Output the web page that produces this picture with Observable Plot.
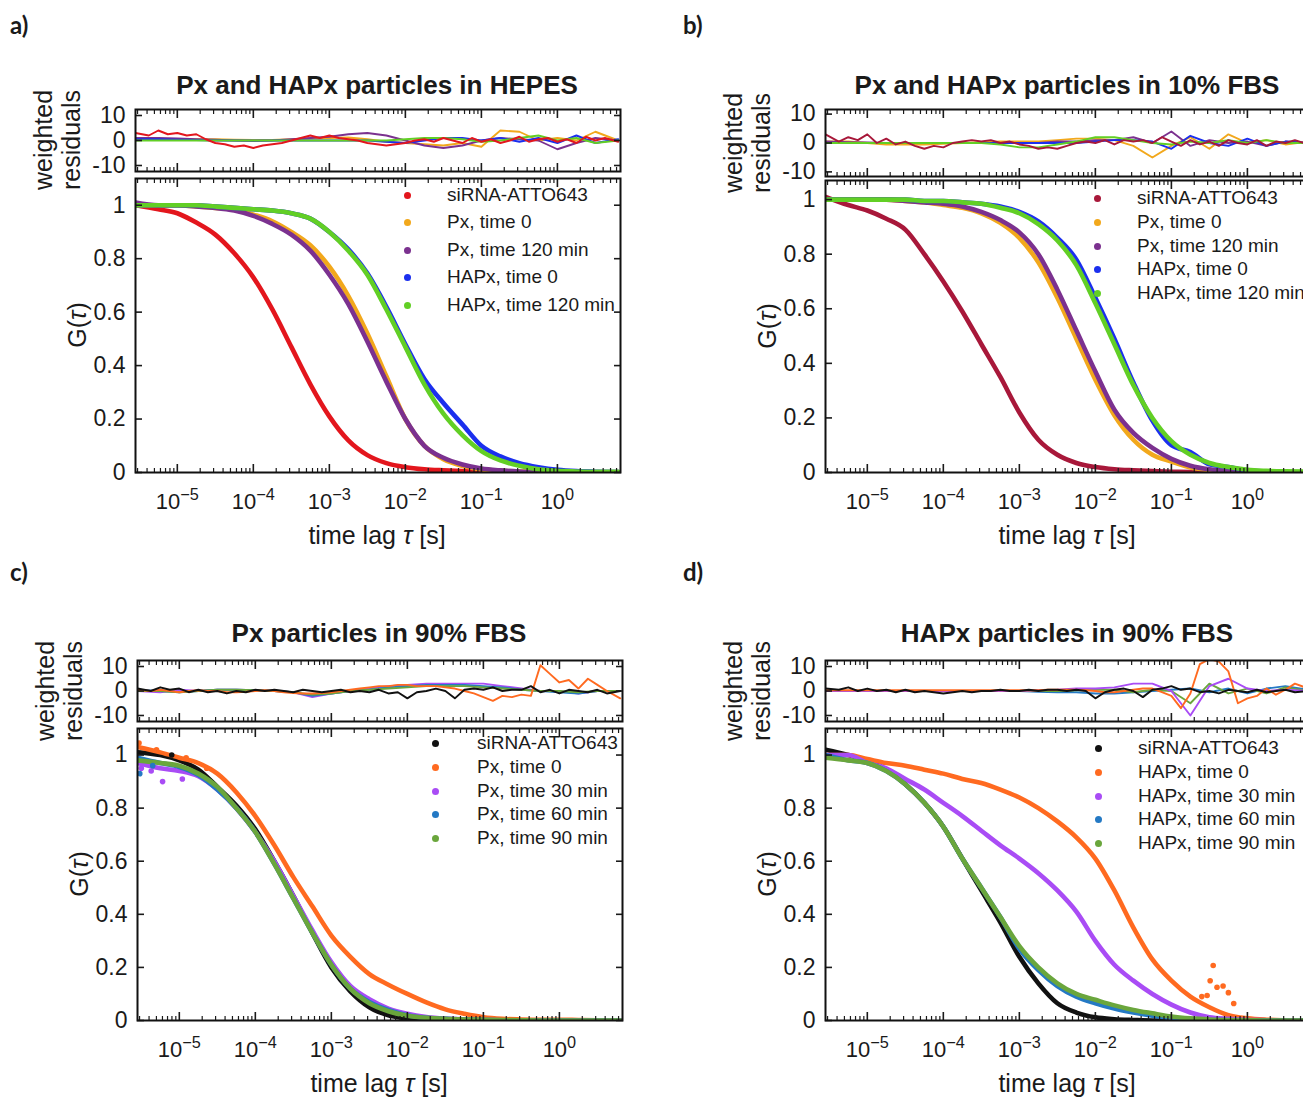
<!DOCTYPE html>
<html><head><meta charset="utf-8">
<script src="https://cdn.jsdelivr.net/npm/d3@7"></script>
<script src="https://cdn.jsdelivr.net/npm/@observablehq/plot@0.6"></script>
<style>
body{margin:0;background:#fff;}
#fig{position:relative;width:1303px;height:1097px;overflow:hidden;background:#fff;font-family:"Liberation Sans",Arial,sans-serif;color:#1a1a1a;}
.abs{position:absolute;}
.plabel{font-family:Lato,"Open Sans",sans-serif;font-weight:700;font-size:24px;line-height:28px;}
.title{font-weight:700;font-size:26px;line-height:30px;text-align:center;white-space:nowrap;}
.leg{font-size:19px;line-height:22px;white-space:nowrap;}
.dot{width:7px;height:7px;border-radius:50%;}
.ylab{font-size:25px;line-height:28px;text-align:center;white-space:nowrap;transform:translate(-50%,-50%) rotate(-90deg);}
.xlab{font-size:25px;line-height:30px;text-align:center;white-space:nowrap;transform:translate(-50%,-50%);}
</style></head><body><div id="fig"></div><script>
// ---------- DATA ----------
// lag-time grid (log10 of tau in s) used for the correlation curves
const logTau = [-5.55,-5.25,-5,-4.75,-4.5,-4.25,-4,-3.75,-3.5,-3.25,-3,-2.75,-2.5,-2.25,-2,-1.75,-1.5,-1.25,-1,-0.75,-0.5,-0.25,0,0.25,0.5,0.8];
// finer grid used for the noisiest residual traces
const logTauFine = [-5.55,-5.375,-5.25,-5.125,-5,-4.875,-4.75,-4.625,-4.5,-4.375,-4.25,-4.125,-4,-3.875,-3.75,-3.625,-3.5,-3.375,-3.25,-3.125,-3,-2.875,-2.75,-2.625,-2.5,-2.375,-2.25,-2.125,-2,-1.875,-1.75,-1.625,-1.5,-1.375,-1.25,-1.125,-1,-0.875,-0.75,-0.625,-0.5,-0.375,-0.25,-0.125,0,0.125,0.25,0.375,0.5,0.625,0.8];

const namesAB = ["siRNA-ATTO643","Px, time 0","Px, time 120 min","HAPx, time 0","HAPx, time 120 min"];
const namesC = ["siRNA-ATTO643","Px, time 0","Px, time 30 min","Px, time 60 min","Px, time 90 min"];
const namesD = ["siRNA-ATTO643","HAPx, time 0","HAPx, time 30 min","HAPx, time 60 min","HAPx, time 90 min"];
const colorsA = ["#e3161d","#f2a81c","#7b318f","#1b2fee","#62cf25"];
const colorsB = ["#a8183a","#f2a81c","#7b318f","#1b2fee","#62cf25"];
const colorsCD = ["#111111","#ff6a20","#a94cf5","#2479c4","#6aa63c"];
const titles = ["Px and HAPx particles in HEPES","Px and HAPx particles in 10% FBS","Px particles in 90% FBS","HAPx particles in 90% FBS"];
const panelLetters = ["a)","b)","c)","d)"];
const gTicks = [0,0.2,0.4,0.6,0.8,1];
const resTicks = [-10,0,10];

// Panel a, G(tau)
const gA_siRNA  = [1.0,0.985,0.97,0.935,0.89,0.82,0.73,0.61,0.47,0.33,0.21,0.12,0.065,0.035,0.02,0.012,0.008,0.005,0.003,0.002,0.001,0.001,0,0,0,0];
const gA_px0    = [1.0,1.0,1.0,0.995,0.99,0.985,0.965,0.94,0.9,0.85,0.77,0.66,0.52,0.36,0.2,0.1,0.05,0.025,0.012,0.006,0.004,0.002,0.001,0,0,0];
const gA_px120  = [1.01,1.0,1.0,0.995,0.99,0.98,0.96,0.93,0.89,0.83,0.74,0.63,0.49,0.34,0.2,0.1,0.055,0.03,0.015,0.008,0.004,0.002,0.001,0,0,0];
const gA_hapx0  = [1.0,1.0,1.0,1.0,0.995,0.99,0.985,0.98,0.97,0.95,0.9,0.835,0.745,0.62,0.48,0.35,0.26,0.18,0.1,0.06,0.035,0.02,0.01,0.005,0.003,0.002];
const gA_hapx120= [1.0,1.0,1.0,1.0,0.995,0.99,0.985,0.98,0.97,0.95,0.9,0.83,0.74,0.61,0.47,0.33,0.22,0.14,0.08,0.045,0.025,0.012,0.006,0.004,0.003,0.003];
// Panel b
const gB_siRNA  = [1.01,0.98,0.96,0.93,0.89,0.8,0.7,0.59,0.47,0.35,0.22,0.12,0.065,0.035,0.02,0.012,0.008,0.005,0.003,0.002,0.001,0.001,0,0,0,0];
const gB_px0    = [1.0,1.0,1.0,1.0,0.995,0.99,0.98,0.97,0.95,0.915,0.86,0.77,0.64,0.49,0.34,0.21,0.12,0.065,0.04,0.018,0.01,0.005,0.003,0.002,0.001,0];
const gB_px120  = [1.0,1.0,1.0,1.0,0.995,0.99,0.985,0.975,0.955,0.925,0.88,0.8,0.67,0.52,0.37,0.23,0.145,0.09,0.05,0.025,0.012,0.006,0.003,0.002,0.001,0];
const gB_hapx0  = [1.0,1.0,1.0,1.0,1.0,0.995,0.995,0.99,0.985,0.975,0.955,0.92,0.86,0.78,0.64,0.49,0.33,0.19,0.1,0.075,0.03,0.02,0.008,0.004,0.001,0];
const gB_hapx120= [1.0,1.0,1.0,1.0,1.0,0.995,0.995,0.99,0.985,0.97,0.95,0.91,0.85,0.76,0.62,0.47,0.32,0.2,0.115,0.065,0.035,0.02,0.01,0.006,0.004,0.003];
// Panel c
const gC_siRNA = [1.01,1.0,0.98,0.945,0.88,0.81,0.72,0.6,0.47,0.33,0.2,0.11,0.05,0.02,0.008,0.003,0.001,0,0,0,0,0,0,0,0,0];
const gC_px0   = [1.03,1.01,0.99,0.97,0.93,0.86,0.77,0.66,0.54,0.43,0.32,0.24,0.175,0.135,0.1,0.068,0.042,0.025,0.012,0.006,0.004,0.003,0.003,0.002,0.001,0];
const gC_px30  = [0.97,0.95,0.94,0.92,0.87,0.8,0.71,0.6,0.47,0.34,0.22,0.13,0.08,0.045,0.025,0.013,0.007,0.004,0.002,0.001,0,0,0,0,0,0];
const gC_px60  = [0.99,0.97,0.955,0.925,0.87,0.8,0.71,0.59,0.46,0.33,0.21,0.12,0.07,0.04,0.02,0.01,0.006,0.004,0.002,0.001,0,0,0,0,0,0];
const gC_px90  = [0.98,0.97,0.96,0.93,0.88,0.8,0.71,0.59,0.46,0.33,0.21,0.12,0.065,0.035,0.018,0.01,0.006,0.004,0.003,0.002,0.001,0,0,0,0,0];
// scattered early points, panel c
const xC_px0_log = [-5.53,-5.3,-4.91,-4.64];  const xC_px0_g = [1.045,1.02,0.99,0.95];
const xC_px30_log = [-5.5,-5.37,-5.22,-4.96]; const xC_px30_g = [0.95,0.94,0.9,0.91];
const xC_px60_log = [-5.52,-5.35];            const xC_px60_g = [0.93,0.96];
const xC_siRNA_log = [-5.1];                  const xC_siRNA_g = [1.0];
// Panel d
const gD_siRNA  = [1.02,1.0,0.98,0.945,0.89,0.82,0.73,0.61,0.49,0.37,0.24,0.14,0.065,0.03,0.012,0.005,0.002,0,0,0,0,0,0,0,0,0];
const gD_hapx0  = [1.0,1.0,0.985,0.97,0.96,0.945,0.93,0.91,0.895,0.87,0.84,0.8,0.75,0.69,0.61,0.49,0.35,0.23,0.15,0.09,0.05,0.02,0.008,0.003,0.001,0];
const gD_hapx30 = [1.0,1.0,0.97,0.95,0.91,0.87,0.82,0.77,0.715,0.66,0.61,0.555,0.49,0.41,0.3,0.21,0.15,0.1,0.06,0.03,0.012,0.006,0.002,0.001,0,0];
const gD_hapx60 = [1.0,0.98,0.97,0.94,0.89,0.82,0.73,0.61,0.5,0.39,0.27,0.19,0.13,0.09,0.065,0.045,0.03,0.018,0.01,0.005,0.002,0.001,0,0,0,0];
const gD_hapx90 = [0.99,0.98,0.97,0.94,0.89,0.82,0.73,0.61,0.5,0.39,0.28,0.2,0.14,0.1,0.078,0.057,0.04,0.027,0.015,0.008,0.004,0.002,0.001,0,0,0];
// scattered late points, panel d (HAPx, time 0)
const xD_hapx0_log = [-0.6,-0.53,-0.49,-0.45,-0.4,-0.32,-0.25,-0.18];
const xD_hapx0_g   = [0.09,0.094,0.15,0.207,0.125,0.13,0.105,0.064];

// Weighted residuals
const rA_siRNA  = [3,2,4,2.5,3,2,2.5,0.5,-1,-1.5,-2.5,-2,-3,-2,-1.5,-1,0,1,2,1,2,1,0.5,0,-1,-1.5,-2,-1.5,-1,0,0.5,-0.5,1,0,-1,1,-0.5,0.5,-1,0,1.5,-0.5,0.5,1,-0.5,0.5,-1,1.5,0,1,-0.5];
const rA_px0    = [0.5,0.5,0.5,0.5,0.5,0.3,0.2,0.2,0.5,0.8,1,1.2,0.5,-0.5,-1,-1.5,-2,-1,-2.5,4,3.5,0,1,0,3.5,0];
const rA_px120  = [1,1,0.8,0.5,0.3,0,-0.2,0,0.5,1,1.5,2.5,3,2,0,-2,-3,-2,0,1,0.5,0,-3.5,-1,1,0];
const rA_hapx0  = [0.5,0.5,0.3,0.2,0,0,0,0,0,0,0,0,0,-0.5,-1,0,1,1,0,1,-0.5,1,-1,2,-1,0.5];
const rA_hapx120= [0,0,0,0,0,0,0,0,0,0,0,0,0,0,0.5,1,1,0.5,-0.5,0,1,2,0,1,-1,0];

const rB_siRNA  = [3,0.5,2,1,3,0,1.5,-0.5,0.5,-1,-2,-1,-1.5,0,0.5,1,0.5,1,0,0.5,-0.5,-1,-2,-1.5,-2,-1,0,0.5,0,1,-0.5,1,0.5,1,0,2,0.5,-1,1,-0.5,0.5,-1,1,0,-0.5,1,-1,0.5,0,1,-0.5];
const rB_px0    = [0.5,0.5,0,-0.5,-0.5,-0.5,-0.3,0,0.3,0.5,0.5,0.5,1,1.5,1.5,1,-1,-5,-1,2,-2,3,0,1,-0.5,0.5];
const rB_px120  = [0.5,0.3,0.2,0,0,0,0,0,0,0,0,0,0.5,0.5,1,1,2,0,4,-1,1,0,0.5,-1,0.5,0];
const rB_hapx0  = [0,0,0,0,0,0,0,0,0,0,0,0,0,0,0.5,1,1,0.5,-2,2.5,0,-1,1.5,-1,0.5,0];
const rB_hapx120= [0,0,0,0,0,0,0,0,0,-0.5,-1.5,-1.5,-0.5,0.5,2,2,1,0,-0.5,0.5,0,1,0,1,0,0];

const rC_siRNA = [1,0,1.5,0.5,1,-0.5,0.5,-0.5,0,-1,0,-0.5,0.5,0,0.5,0,-0.5,0.5,0,-0.5,0,0.5,-0.5,0,-0.5,0.5,-1,-0.5,-3,-0.5,0,1,0,-3,0.5,1,0.5,1.5,0,0.5,0.5,2,-0.5,0.5,-1,0.5,0,-0.5,0.5,-1,0];
const rC_px0   = [0.5,0,0.5,0,-0.5,0,0.3,0,0,-0.5,-0.5,-0.3,0,0.3,0,-0.5,-0.8,-1,-1,-0.8,-0.5,0,0.5,1,1.5,2,2,2.5,2.5,2,2,2,1.5,1,0,-1,-2.5,-4,-2,-2.5,-1.5,-2,10.5,7,3.5,4.5,1,5,2.5,0,-3];
const rC_px30  = [0,-0.5,0.5,0,0.5,0.5,0.3,0,-0.5,-2.5,-1,0,1,2,2.5,3,3,3,3,2,1,0,0,-1,0,0];
const rC_px60  = [0.5,0,-0.5,0,0.5,0.5,0.3,0,-0.5,-2,-1,0,0.5,1.5,2,2.5,2.5,2.5,2,1.5,0.5,0,-0.5,-1,0,0];
const rC_px90  = [0,0,-0.5,0,0.5,0.5,0.3,0,-0.5,-1.5,-1,0,0.5,1,1.5,2,2,2,1.5,1,0.5,0,0,-0.5,0,0];

const rD_siRNA  = [1,0.5,1.5,0,1,0,0.5,-0.5,0.5,-0.5,0,-0.5,-1,-0.5,0,-0.5,0,0,0.5,0,0,0.5,0,0.5,0.5,0,0.5,0,-3,-0.5,0.5,1,0,-2.5,0.5,1,2,0.5,1,-0.5,0,-1,0.5,0,-0.5,0.5,-0.5,0,0.5,-0.5,0];
const rD_hapx0  = [0.3,0.3,0.3,0.3,0.3,0.3,0.3,0.3,0.3,0.3,0.3,0.3,0.3,0.3,0.3,0.3,0.3,0.3,0.3,0.3,0.3,0.3,0.3,0.5,0.5,0.5,0.5,0.3,0,-0.5,-0.5,0,0.5,1,1,-0.5,-2,-7,-1,11,13,12,8,-5,-3,-2,1,-1.5,0.5,3,1];
const rD_hapx30 = [0,0,0,0,0,0,0,0,0,0,0,0.3,0.5,1,1,1.5,3,3,0,-10,2,5,1,0,0.5,0];
const rD_hapx60 = [0,0,0,0,0,0,0,0,0,0,0,-0.3,-0.5,-0.5,-1,-1,-0.5,0,0.5,1,-0.5,1,-1,1,2,0.5];
const rD_hapx90 = [0,0,0,0,0,0,0,0,0,0,0,0,0,0.3,0.5,0.5,-0.5,0.5,0,-5,3,-1,1,-1,1.5,0];

// ---------- LAYOUT ----------
const W = 693, ML = 135, FR = 620;
const X_DOMAIN = [Math.pow(10,-5.55), Math.pow(10,0.83)];
const majorX = [1e-5,1e-4,1e-3,1e-2,1e-1,1];
const minorX = [];
for (let k = -6; k <= 0; k++) for (let m = 2; m <= 9; m++) { const v = m * Math.pow(10,k); if (v > X_DOMAIN[0] && v < X_DOMAIN[1]) minorX.push(v); }

const panels = [
  {ox:0, oy:0, lab:[10,11], res:[109,171,12.4], main:[178,472,1.1], leg:{dx:407,tx:447,ys:[195,222,250,277,305]},
   names:namesAB, colors:colorsA,
   g:[gA_siRNA,gA_px0,gA_px120,gA_hapx0,gA_hapx120],
   r:[[rA_px0,0],[rA_px120,0],[rA_hapx0,0],[rA_hapx120,0],[rA_siRNA,1]], rNames:[1,2,3,4,0], extras:[]},
  {ox:690, oy:0, lab:[683,11], res:[109,176,11.6], main:[180,472,1.07], leg:{dx:407,tx:447,ys:[198,222,246,269,293]},
   names:namesAB, colors:colorsB,
   g:[gB_siRNA,gB_px0,gB_px120,gB_hapx0,gB_hapx120],
   r:[[rB_px0,0],[rB_px120,0],[rB_hapx0,0],[rB_hapx120,0],[rB_siRNA,1]], rNames:[1,2,3,4,0], extras:[]},
  {ox:2, oy:548, lab:[10,558], res:[112,173,12.45], main:[180,472,1.1], leg:{dx:433,tx:475,ys:[195,219,243,266,290]},
   names:namesC, colors:colorsCD,
   g:[gC_siRNA,gC_px0,gC_px30,gC_px60,gC_px90],
   r:[[rC_px30,0],[rC_px60,0],[rC_px90,0],[rC_px0,1],[rC_siRNA,1]], rNames:[2,3,4,1,0],
   extras:[[xC_px0_log,xC_px0_g,1],[xC_px30_log,xC_px30_g,2],[xC_px60_log,xC_px60_g,3],[xC_siRNA_log,xC_siRNA_g,0]]},
  {ox:690, oy:548, lab:[683,558], res:[112,173,12.45], main:[180,472,1.1], leg:{dx:408,tx:448,ys:[200,224,248,271,295]},
   names:namesD, colors:colorsCD,
   g:[gD_siRNA,gD_hapx0,gD_hapx30,gD_hapx60,gD_hapx90],
   r:[[rD_hapx60,0],[rD_hapx90,0],[rD_hapx30,0],[rD_hapx0,1],[rD_siRNA,1]], rNames:[3,4,2,1,0],
   extras:[[xD_hapx0_log,xD_hapx0_g,1]]}
];

const styleObj = {fontFamily:'"Liberation Sans", Arial, sans-serif', fontSize:"23px", color:"#1a1a1a", background:"transparent", overflow:"visible"};
const none = () => "";
function fmtPow(d){ const e = Math.round(Math.log10(d)); return "10^" + (e < 0 ? "\u2212" + (-e) : String(e)); }
function fmtG(d){ return d === 0 ? "0" : d === 1 ? "1" : d.toFixed(1); }
function fmtR(d){ return String(d); }

function frameAxes(yTicks, yFmt, showX){
  const m = [
    Plot.axisX({ticks:minorX, anchor:"bottom", tickSize:-4, tickFormat:none, label:null, strokeWidth:1.2}),
    Plot.axisX({ticks:minorX, anchor:"top", tickSize:-4, tickFormat:none, label:null, strokeWidth:1.2}),
    Plot.axisX({ticks:majorX, anchor:"bottom", tickSize:-8, tickFormat:none, label:null, strokeWidth:1.6}),
    Plot.axisX({ticks:majorX, anchor:"top", tickSize:-8, tickFormat:none, label:null, strokeWidth:1.6}),
    Plot.axisY({ticks:yTicks, anchor:"left", tickSize:-7, tickFormat:none, label:null, strokeWidth:1.6}),
    Plot.axisY({ticks:yTicks, anchor:"right", tickSize:-7, tickFormat:none, label:null, strokeWidth:1.6}),
    Plot.axisY({ticks:yTicks, anchor:"left", tickSize:0, tickPadding:10, tickFormat:yFmt, label:null, fontSize:23})
  ];
  if (showX) m.push(Plot.axisX({ticks:majorX, anchor:"bottom", tickSize:0, tickPadding:21, tickFormat:fmtPow, label:null, fontSize:22}));
  m.push(Plot.frame({stroke:"#111", strokeWidth:2}));
  return m;
}

const fig = document.getElementById("fig");
function addDiv(html, cls, style){ const d = document.createElement("div"); d.className = "abs " + cls; d.innerHTML = html; Object.assign(d.style, style); fig.appendChild(d); return d; }
function place(svg, left, top){ svg.style.position = "absolute"; svg.style.left = left + "px"; svg.style.top = top + "px"; fig.appendChild(svg); }
function supLabels(svg){
  svg.querySelectorAll("text").forEach(t => {
    const m = /^10\^(.+)$/.exec(t.textContent);
    if (m) {
      t.textContent = "10";
      const ts = document.createElementNS("http://www.w3.org/2000/svg","tspan");
      ts.setAttribute("dy","-0.55em"); ts.setAttribute("font-size","0.74em"); ts.textContent = m[1];
      t.appendChild(ts);
    }
  });
}

panels.forEach((p, pi) => {
  const [rt, rb, rlim] = p.res;
  const [mt, mb, ytop] = p.main;
  // residuals
  const resRows = p.r.flatMap(([arr, fine], j) => {
    const grid = fine ? logTauFine : logTau;
    return arr.map((v, i) => ({name: p.names[p.rNames[j]], x: Math.pow(10, grid[i]), y: v}));
  });
  const resSvg = Plot.plot({
    width: W, height: (rb - rt) + 16, marginTop: 8, marginBottom: 8, marginLeft: ML, marginRight: W - FR,
    x: {type: "log", domain: X_DOMAIN}, y: {domain: [-rlim, rlim]},
    color: {domain: p.names, range: p.colors},
    style: styleObj,
    marks: [
      Plot.line(resRows, {x:"x", y:"y", z:"name", stroke:"name", strokeWidth:1.9, strokeLinejoin:"round", clip:true}),
      ...frameAxes(resTicks, fmtR, false)
    ]
  });
  place(resSvg, p.ox, p.oy + rt - 8);

  // main correlation curves
  const rows = p.g.flatMap((arr, j) => arr.map((v, i) => ({name: p.names[j], x: Math.pow(10, logTau[i]), y: v})));
  const extra = p.extras.flatMap(([ls, gs, j]) => ls.map((l, i) => ({name: p.names[j], x: Math.pow(10, l), y: gs[i]})));
  const mainSvg = Plot.plot({
    width: W, height: (mb - mt) + 8 + 50, marginTop: 8, marginBottom: 50, marginLeft: ML, marginRight: W - FR,
    x: {type: "log", domain: X_DOMAIN}, y: {domain: [0, ytop]},
    color: {domain: p.names, range: p.colors},
    style: styleObj,
    marks: [
      Plot.line(rows, {x:"x", y:"y", z:"name", stroke:"name", strokeWidth:4.6, curve:"monotone-x", strokeLinecap:"round", strokeLinejoin:"round", clip:true}),
      Plot.dot(extra, {x:"x", y:"y", fill:"name", r:2.8, clip:true}),
      ...frameAxes(gTicks, fmtG, true)
    ]
  });
  supLabels(mainSvg);
  place(mainSvg, p.ox, p.oy + mt - 8);

  // texts
  addDiv(panelLetters[pi], "plabel", {left: p.lab[0] + "px", top: p.lab[1] + "px"});
  addDiv(titles[pi], "title", {left: (p.ox + 377 - 350) + "px", top: (p.oy + 70) + "px", width: "700px"});
  addDiv("weighted<br>residuals", "ylab", {left: (p.ox + 57) + "px", top: (p.oy + (rt + rb) / 2) + "px"});
  addDiv("G(<i>\u03c4</i>)", "ylab", {left: (p.ox + 77) + "px", top: (p.oy + (mt + mb) / 2) + "px"});
  addDiv("time lag <i>\u03c4</i> [s]", "xlab", {left: (p.ox + 377) + "px", top: (p.oy + 535) + "px"});
  // legend
  p.names.forEach((n, i) => {
    addDiv("", "dot", {left: (p.ox + p.leg.dx - 3.5) + "px", top: (p.oy + p.leg.ys[i] - 3.5) + "px", background: p.colors[i]});
    addDiv(n, "leg", {left: (p.ox + p.leg.tx) + "px", top: (p.oy + p.leg.ys[i] - 11) + "px"});
  });
});
</script></body></html>
